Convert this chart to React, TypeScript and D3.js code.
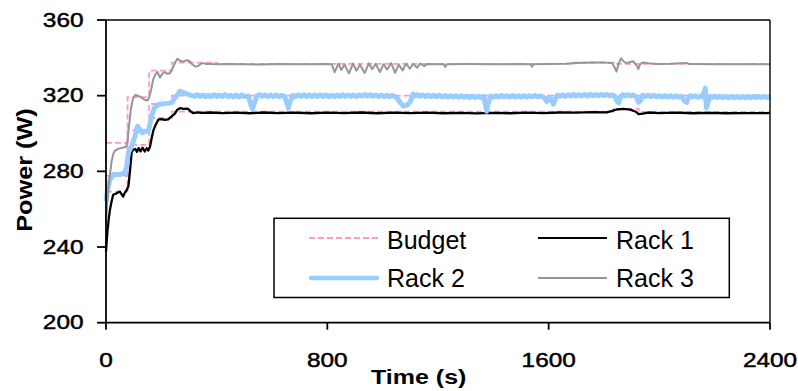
import React from "react";
import * as d3 from "d3";

// ---------- data (time s, power W) ----------
const xTicks = [0, 800, 1600, 2400];
const yTicks = [200, 240, 280, 320, 360];
const seriesNames = ["Budget", "Rack 1", "Rack 2", "Rack 3"];

// budget step values (step after)
const budgetRack1: [number, number][] = [[0, 269.3], [78, 294], [156, 308.2], [238, 311.6], [1835, 313], [1925, 311.4], [2400, 311.4]];
const budgetRack2: [number, number][] = [[0, 277.6], [78, 301.8], [156, 315.6], [238, 320], [2400, 320]];
const budgetRack3: [number, number][] = [[0, 295], [78, 319.2], [156, 333.2], [238, 337.5], [400, 336.8], [1690, 337.4], [1835, 336.8], [2400, 336.8]];

const rack1: [number, number][] = [
  [0, 237.6], [5, 248], [10, 255], [14.5, 259.8], [20, 264], [26, 267.6], [35, 268.2], [45, 269], [50, 269.3],
  [56, 268], [62, 266.7], [67, 268.5], [71, 269.3], [76, 270.5], [81, 272.1], [87, 280.8], [93, 290.5],
  [100, 291.5], [106, 291.8], [112, 290.3], [118, 292.3], [125, 290.6], [132, 292.5], [140, 290.5], [147, 292.2],
  [153, 291], [159, 293], [165, 297.5], [171, 301.5], [177, 303.8], [189, 307.3], [200, 307.6], [212, 307.2],
  [225, 307.5], [237, 309], [249, 310.5], [258, 312.6], [267, 313.4], [280, 313], [295, 313.2], [305, 311.8],
  [315, 310.8], [330, 311.2], [345, 310.9], [380, 311.1], [420, 310.8], [470, 311], [520, 310.7], [570, 311.1],
  [620, 310.8], [680, 311], [740, 310.7], [800, 311], [860, 310.8], [920, 311.1], [980, 310.7], [1040, 311],
  [1100, 310.8], [1160, 311], [1220, 310.7], [1280, 310.9], [1340, 310.6], [1400, 310.9], [1460, 310.7],
  [1520, 311], [1580, 310.8], [1640, 311.1], [1700, 311], [1760, 311.3], [1810, 311.2], [1830, 312],
  [1845, 312.7], [1870, 313], [1895, 312.6], [1915, 311.5], [1925, 310.2], [1940, 310.5], [1960, 311.1],
  [2000, 310.8], [2060, 311], [2120, 310.7], [2180, 310.9], [2240, 310.7], [2300, 310.8], [2400, 310.8],
];

const rack2: [number, number][] = [
  [0, 264.3], [6, 270.4], [14.5, 275.7], [26.5, 278.3], [50, 278.3], [68.6, 279.2], [74.7, 282.7], [80.7, 289.8],
  [92.8, 293.3], [105, 298.6], [114, 303.8], [123, 302.1], [131, 300.3], [141, 301.2], [153, 301.2], [165, 309.1],
  [175, 313.5], [189, 315.3], [210, 315.8], [237, 316.2], [249, 318.8], [267, 322.3], [285, 321.4], [300, 320.6],
  [320, 319.7], [330, 320.5], [340, 319.6], [350, 320.4], [360, 319.4], [370, 320.2], [380, 319.5], [390, 320.5],
  [400, 319.6], [410, 320.3], [420, 319.5], [430, 320.6], [440, 319.5], [450, 320.2], [460, 319.4], [470, 320.3],
  [480, 319.3], [490, 320.4], [500, 319.5], [515, 319.8], [525, 314.5], [529, 313], [535, 315.5], [545, 319.8],
  [555, 320.6], [565, 319.6], [575, 320.4], [585, 319.5], [595, 320.3], [605, 319.6], [615, 320.4], [625, 319.4],
  [635, 320.2], [645, 319.8], [655, 315.5], [659, 313.5], [665, 316.5], [675, 320.2], [685, 319.5], [695, 320.4],
  [705, 319.6], [715, 320.5], [725, 319.6], [735, 320.3], [745, 319.5], [755, 320.4], [765, 319.6], [775, 320.3],
  [785, 319.5], [795, 320.4], [805, 319.5], [815, 320.2], [825, 319.4], [835, 320.3], [845, 319.6], [855, 320.5],
  [865, 319.7], [875, 320.4], [885, 319.6], [895, 320.3], [905, 319.5], [915, 320.4], [925, 319.7], [935, 320.6],
  [945, 319.8], [955, 320.5], [965, 319.7], [975, 320.4], [985, 319.6], [995, 320.3], [1005, 319.5], [1015, 320.2],
  [1025, 319.4], [1035, 320.1], [1050, 319.2], [1063, 316.5], [1075, 314.5], [1088, 315], [1100, 316.8],
  [1110, 320.8], [1118, 319.9], [1125, 320.6], [1135, 319.7], [1145, 320.4], [1155, 319.5], [1165, 320.3],
  [1175, 319.4], [1185, 320.2], [1195, 319.5], [1205, 320.3], [1215, 319.4], [1225, 320.1], [1235, 319.3],
  [1245, 320], [1255, 319.3], [1265, 320], [1275, 319.2], [1285, 319.9], [1295, 319.2], [1305, 319.8],
  [1315, 319.1], [1325, 319.8], [1335, 319.1], [1345, 319.7], [1355, 319.1], [1365, 319.6],
  [1372, 315], [1376, 311.8], [1382, 316], [1390, 319.8], [1400, 319.2], [1410, 319.9], [1420, 319.3], [1430, 320.1],
  [1440, 319.4], [1450, 320], [1460, 319.3], [1470, 320.1], [1480, 319.3], [1490, 319.9], [1500, 319.2],
  [1510, 320], [1520, 319.3], [1530, 319.9], [1540, 319.4], [1550, 320.1], [1560, 319.4], [1570, 319.9], [1585, 318.8],
  [1593, 317], [1600, 319.2], [1610, 318], [1617, 315.5], [1625, 318.6], [1632, 320.3], [1640, 319.7], [1650, 320.4],
  [1660, 319.6], [1670, 320.5], [1680, 319.8], [1690, 320.6], [1700, 319.8], [1710, 320.5], [1720, 319.9],
  [1730, 320.6], [1740, 319.8], [1750, 320.7], [1760, 320], [1770, 320.6], [1780, 319.9], [1790, 320.7], [1800, 320.1],
  [1810, 320.6], [1820, 319.9], [1830, 320.4], [1840, 319.6], [1848, 317], [1853, 316.2], [1860, 319.5], [1868, 320.6],
  [1875, 319.9], [1885, 320.5], [1895, 319.8], [1905, 320.4], [1915, 319.6], [1925, 316.5], [1932, 317.5], [1940, 320.2],
  [1950, 319.6], [1960, 320.3], [1970, 319.5], [1980, 320.2], [1990, 319.4], [2000, 320], [2010, 319.3], [2020, 320],
  [2030, 319.3], [2040, 319.9], [2050, 319.2], [2060, 319.9], [2070, 319.2], [2080, 319.7], [2092, 317], [2099, 316.5],
  [2106, 319.4], [2113, 320], [2120, 319.3], [2130, 319.9], [2140, 319.2], [2148, 319.8], [2155, 319.4], [2162, 322],
  [2166, 324], [2170, 313.5], [2175, 316], [2182, 319.6], [2190, 319], [2200, 319.7], [2210, 319], [2220, 319.7],
  [2230, 319], [2240, 319.6], [2250, 318.9], [2260, 319.6], [2270, 319], [2280, 319.6], [2290, 318.9], [2300, 319.6],
  [2310, 319], [2320, 319.6], [2330, 318.9], [2340, 319.6], [2350, 319], [2360, 319.6], [2370, 319], [2380, 319.6],
  [2390, 319.1], [2400, 319.4],
];

const rack3: [number, number][] = [
  [0, 252.6], [4, 262], [9, 272], [14, 278], [20, 285], [27, 289.5], [33, 291], [45, 292], [60, 292.5],
  [72, 293], [78, 296], [84, 305], [90, 313], [97, 318], [105, 320.4], [115, 320], [125, 319.2], [140, 317.8],
  [150, 317.5], [156, 319], [163, 323], [170, 328.3], [178, 331], [186, 332.6], [195, 329.5], [203, 331.5],
  [212, 332.5], [222, 331.5], [232, 332], [242, 335], [250, 337.5], [258, 339.5], [268, 338.5], [280, 338],
  [292, 338.8], [302, 338.2], [312, 336.5], [322, 335.4], [332, 335.6], [342, 336.8], [352, 337.2],
  [362, 336.7], [376, 336.8], [400, 336.6], [450, 336.7], [500, 336.6], [560, 336.5], [620, 336.7],
  [680, 336.6], [740, 336.6], [800, 336.7], [816, 336.6], [826, 332.4], [840, 336.9], [850, 333.6],
  [862, 336.5], [878, 331.8], [893, 337], [905, 333.2], [918, 336.3], [935, 332], [950, 337.1], [962, 334],
  [975, 336.8], [990, 332.5], [1003, 336.6], [1016, 333.8], [1031, 337.2], [1045, 332.1], [1058, 336.4],
  [1072, 333.4], [1085, 337], [1098, 334.2], [1110, 336.8], [1125, 334.8], [1135, 337], [1150, 335.6],
  [1160, 336.7], [1200, 336.6], [1222, 336.6], [1226, 335.2], [1232, 336.6], [1300, 336.7], [1400, 336.6],
  [1500, 336.7], [1535, 336.6], [1540, 335.3], [1546, 336.6], [1600, 336.8], [1660, 336.9], [1700, 337.3],
  [1760, 337.5], [1800, 337.6], [1830, 337.2], [1840, 334.5], [1845, 332.7], [1852, 336.5], [1862, 339.8],
  [1870, 338.2], [1880, 337.2], [1895, 337.8], [1905, 338.2], [1918, 336], [1924, 334], [1930, 336.5],
  [1940, 337.6], [1960, 337.2], [1990, 336.8], [2040, 336.9], [2099, 337.3], [2110, 336.7], [2200, 336.6],
  [2300, 336.6], [2400, 336.6],
];

// ---------- layout ----------
const W = 798, H = 391;
const X0 = 106, X1 = 770, YB = 322.7, YT = 20;
const FONT = "'Liberation Sans', Arial, sans-serif";
const PINK = "#ff99cc", BLUE = "#99ccff", GRAY = "#969696";

export default function App() {
  const x = d3.scaleLinear().domain([0, 2400]).range([X0, X1]);
  const y = d3.scaleLinear().domain([200, 360]).range([YB, YT]);
  const line = d3.line<[number, number]>().x((d) => x(d[0])).y((d) => y(d[1]));
  const step = d3.line<[number, number]>().x((d) => x(d[0])).y((d) => y(d[1])).curve(d3.curveStepAfter);

  const budgetStyle = { fill: "none", stroke: PINK, strokeWidth: 1.8, strokeDasharray: "6,3" };

  return (
    <svg width={W} height={H} style={{ position: "absolute", left: 0, top: 0, background: "#fff" }} fontFamily={FONT}>
      <rect x={0} y={0} width={W} height={H} fill="#fff" />
      {/* budget lines */}
      {[budgetRack1, budgetRack2, budgetRack3].map((b, i) => (
        <path key={i} d={step(b) || ""} {...budgetStyle} />
      ))}
      <path d={line(rack1) || ""} fill="none" stroke="#000" strokeWidth={2.3} strokeLinejoin="round" />
      <path d={line(rack2) || ""} fill="none" stroke={BLUE} strokeWidth={5} strokeLinejoin="round" />
      <path d={line(rack3) || ""} fill="none" stroke={GRAY} strokeWidth={2} strokeLinejoin="round" />

      {/* frame */}
      <line x1={X0} x2={X1} y1={YT} y2={YT} stroke="#000" strokeWidth={1.4} />
      <line x1={X1} x2={X1} y1={YT} y2={YB} stroke="#000" strokeWidth={1.4} />
      {/* axes */}
      <line x1={X0} x2={X0} y1={YT} y2={YB} stroke="#000" strokeWidth={1.8} />
      <line x1={X0} x2={X1} y1={YB} y2={YB} stroke="#000" strokeWidth={1.8} />
      {yTicks.map((t) => (
        <g key={"y" + t}>
          <line x1={X0 - 9} x2={X0} y1={y(t)} y2={y(t)} stroke="#000" strokeWidth={1.8} />
          <text transform={`translate(83.5,${y(t) + 6.5}) scale(1.16,1)`} textAnchor="end" fontSize={21} stroke="#000" strokeWidth={0.5}>{t}</text>
        </g>
      ))}
      {xTicks.map((t) => (
        <g key={"x" + t}>
          <line x1={x(t)} x2={x(t)} y1={YB} y2={YB + 7} stroke="#000" strokeWidth={1.8} />
          <text transform={`translate(${x(t)},366.7) scale(1.16,1)`} textAnchor="middle" fontSize={21} stroke="#000" strokeWidth={0.5}>{t}</text>
        </g>
      ))}
      <text transform="translate(418.7,384) scale(1.19,1)" textAnchor="middle" fontSize={21} fontWeight="bold">Time (s)</text>
      <text transform="translate(31.5,170) rotate(-90) scale(1.15,1)" textAnchor="middle" fontSize={22} fontWeight="bold">Power (W)</text>

      {/* legend */}
      <rect x={274} y={218.3} width={455.3} height={79.2} fill="#fff" stroke="#000" strokeWidth={1.5} />
      <line x1={309} x2={378} y1={238} y2={238} {...budgetStyle} />
      <text x={387} y={249.3} fontSize={25}>{seriesNames[0]}</text>
      <line x1={538} x2={607} y1={238} y2={238} stroke="#000" strokeWidth={2} />
      <text x={616} y={249.3} fontSize={25}>{seriesNames[1]}</text>
      <line x1={311} x2={377} y1={278} y2={278} stroke={BLUE} strokeWidth={4.5} strokeLinecap="round" />
      <text x={387} y={286.7} fontSize={25}>{seriesNames[2]}</text>
      <line x1={538} x2={607} y1={278} y2={278} stroke={GRAY} strokeWidth={2} />
      <text x={616} y={286.7} fontSize={25}>{seriesNames[3]}</text>
    </svg>
  );
}
